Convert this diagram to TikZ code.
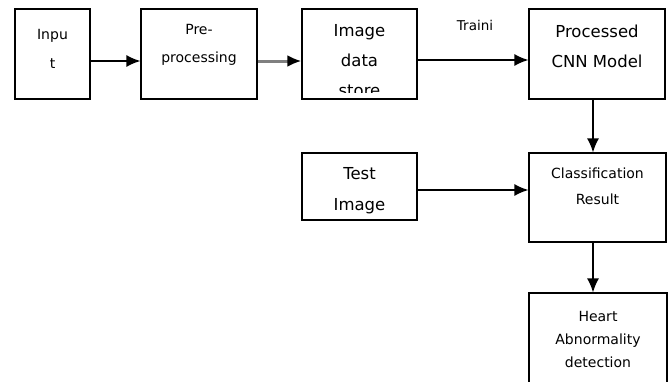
\documentclass[tikz,border=0pt]{standalone}
\usepackage{fontspec}
\setmainfont{DejaVu Sans}
\usetikzlibrary{arrows.meta}

\tikzset{
	box/.style={draw, line width=1.2pt, inner sep=0pt},
	txt/.style n args={2}{align=center, inner sep=0pt, font=\fontsize{#1}{#2}\selectfont},
	flow/.style={line width=1.5pt, -{Latex[length=14pt, width=12pt]}},
}

\begin{document}
\begin{tikzpicture}[x=1pt, y=-1pt]
	\useasboundingbox (0,0) rectangle (668,381);
	
	% boxes
	\node[box, minimum width=75pt, minimum height=90pt] (input) at (52.5,54) {};
	\node[box, minimum width=116pt, minimum height=90pt] (pre) at (199,54) {};
	\node[box, minimum width=115pt, minimum height=90pt] (store) at (359.5,54) {};
	\node[box, minimum width=136pt, minimum height=90pt] (cnn) at (597,54) {};
	\node[box, minimum width=115pt, minimum height=67pt] (test) at (359.5,186.5) {};
	\node[box, minimum width=137pt, minimum height=89pt] (class) at (597.5,197.5) {};
	\node[box, minimum width=138pt, minimum height=107pt] (heart) at (598,346.5) {};
	
	% texts
	\node[txt={14}{29.5}] (input-t) at (52.5,49) {Inpu\\t};
	\node[txt={14}{27.5}] (pre-t) at (199,45) {Pre-\\processing};
	\begin{scope}
		\clip (store.north west) rectangle ([yshift=7pt]store.south east);
		\node[txt={16.5}{30}] (store-t) at (359.5,61) {Image\\data\\store};
	\end{scope}
	\node[txt={16.5}{30}] (cnn-t) at (597,46.5) {Processed\\CNN Model};
	\node[txt={16.5}{31}] (test-t) at (359.5,190.5) {Test\\Image};
	\node[txt={14}{26}] (class-t) at (597.5,186.5) {Classification\\Result};
	\node[txt={14}{23}] (heart-t) at (598,339) {Heart\\Abnormality\\detection};
	\node[txt={13.5}{15}] (train) at (475,25) {Traini};
	
	% arrows
	\draw[flow] ([yshift=-7pt]input.east) -- ([yshift=-7pt]pre.west);
	\draw[flow, draw=gray, line width=3pt, -{Latex[length=14pt, width=12pt, black]}] ([yshift=-7pt]pre.east) -- ([yshift=-7pt]store.west);
	\draw[flow] ([yshift=-6pt]store.east) -- ([yshift=-6pt]cnn.west);
	\draw[flow] ([xshift=-4pt]cnn.south) -- ([xshift=-4pt]cnn.south |- class.north);
	\draw[flow] ([yshift=-3.5pt]test.east) -- ([yshift=-3.5pt]test.east -| class.west);
	\draw[flow] ([xshift=-4.5pt]class.south) -- ([xshift=-4.5pt]class.south |- heart.north);
\end{tikzpicture}
\end{document}
